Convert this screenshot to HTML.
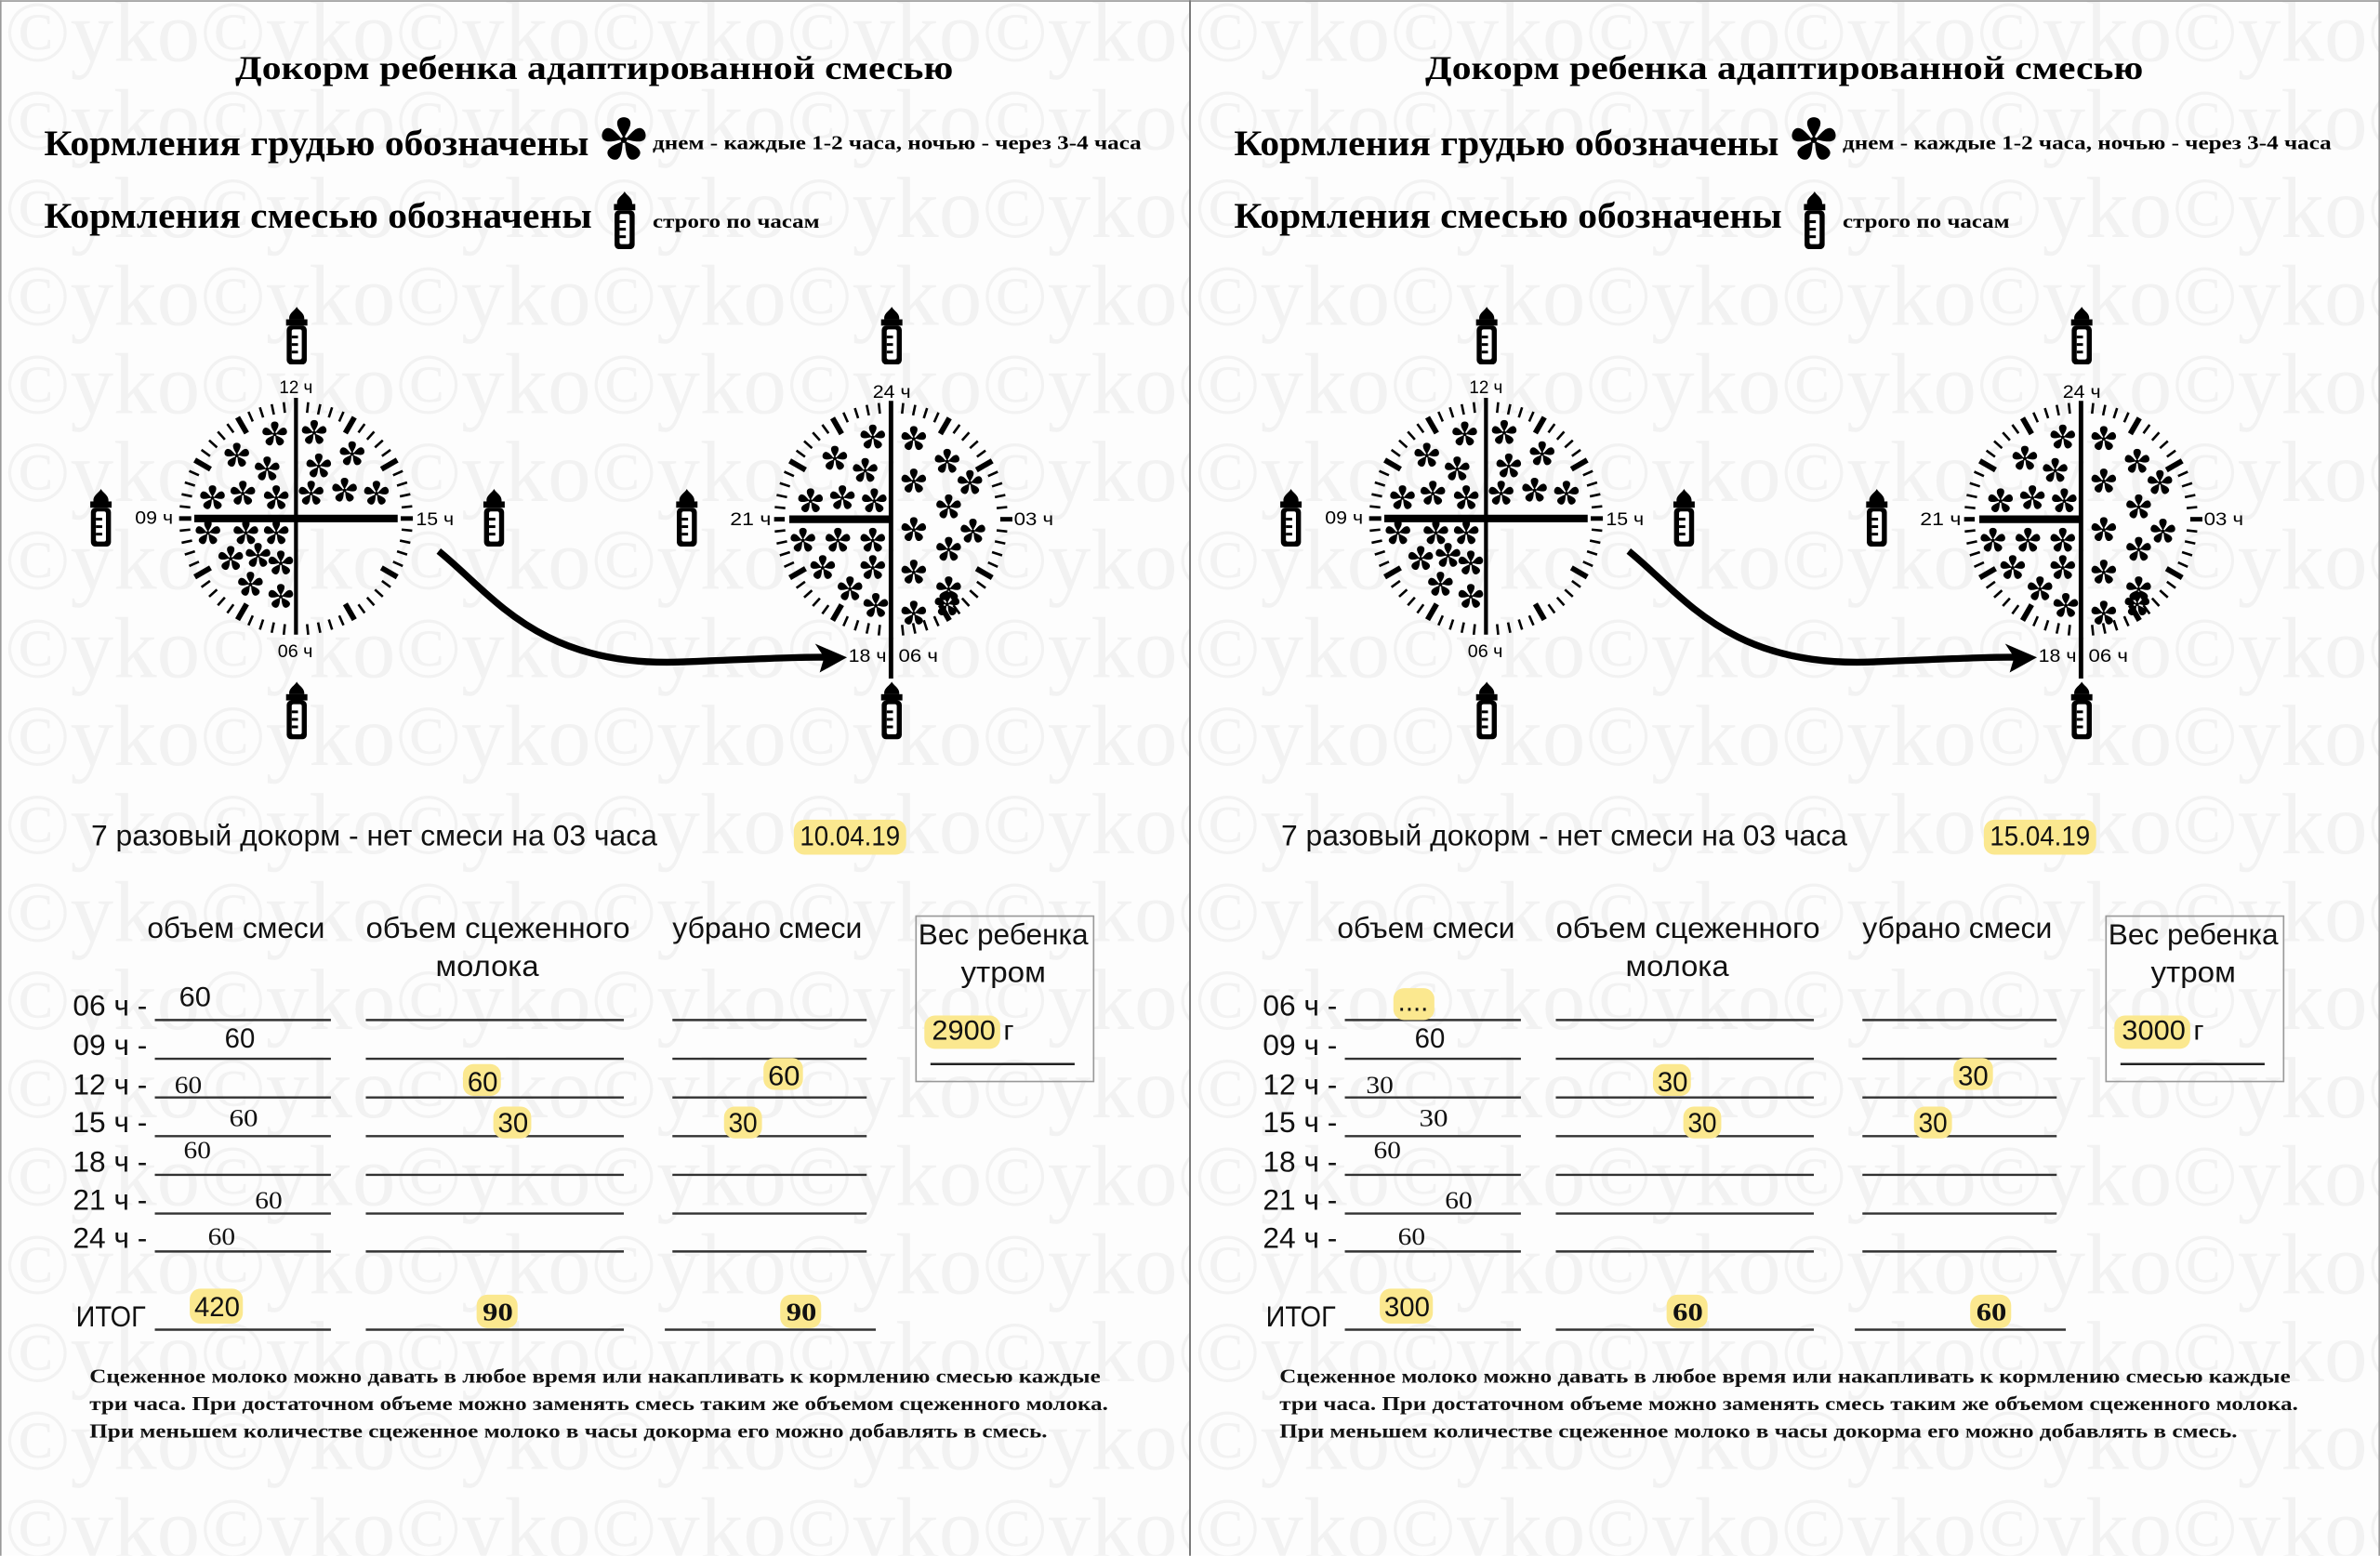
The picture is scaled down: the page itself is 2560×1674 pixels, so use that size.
<!DOCTYPE html>
<html><head><meta charset="utf-8">
<style>
html,body{margin:0;padding:0;background:#fff;}
svg{display:block;}
.s{font-family:"Liberation Serif",serif;font-weight:bold;}
.n{font-family:"Liberation Sans",sans-serif;}
.w{font-family:"Liberation Serif",serif;fill:#f2f2f2;font-size:57px;}
</style></head>
<body>
<svg width="2560" height="1674" viewBox="0 0 1568 1025" xmlns="http://www.w3.org/2000/svg">
<defs>
<symbol id="ast" viewBox="-10 -10 20 20">
<g fill="#000">
<path d="M0 -0.5 C-0.8 -2.5 -3.4 -5.5 -2.6 -7.8 C-1.8 -9.8 1.8 -9.8 2.6 -7.8 C3.4 -5.5 0.8 -2.5 0 -0.5Z"/>
<path d="M0 -0.5 C-0.8 -2.5 -3.4 -5.5 -2.6 -7.8 C-1.8 -9.8 1.8 -9.8 2.6 -7.8 C3.4 -5.5 0.8 -2.5 0 -0.5Z" transform="rotate(72)"/>
<path d="M0 -0.5 C-0.8 -2.5 -3.4 -5.5 -2.6 -7.8 C-1.8 -9.8 1.8 -9.8 2.6 -7.8 C3.4 -5.5 0.8 -2.5 0 -0.5Z" transform="rotate(144)"/>
<path d="M0 -0.5 C-0.8 -2.5 -3.4 -5.5 -2.6 -7.8 C-1.8 -9.8 1.8 -9.8 2.6 -7.8 C3.4 -5.5 0.8 -2.5 0 -0.5Z" transform="rotate(216)"/>
<path d="M0 -0.5 C-0.8 -2.5 -3.4 -5.5 -2.6 -7.8 C-1.8 -9.8 1.8 -9.8 2.6 -7.8 C3.4 -5.5 0.8 -2.5 0 -0.5Z" transform="rotate(288)"/>
<circle r="1.3"/>
</g>
</symbol>
<symbol id="bot" viewBox="0 0 20 46">
<path d="M10 0 C11.5 3 16 5 16 9 L16 10 L4 10 L4 9 C4 5 8.5 3 10 0Z" fill="#000"/>
<rect x="1.5" y="10" width="17" height="5" fill="#000"/>
<rect x="2" y="15" width="16" height="31" rx="3.5" fill="#000"/>
<rect x="6" y="18" width="8" height="24" rx="1.5" fill="#fff"/>
<rect x="6" y="23" width="5" height="2.2" fill="#000"/>
<rect x="6" y="29" width="5" height="2.2" fill="#000"/>
<rect x="6" y="35" width="5" height="2.2" fill="#000"/>
</symbol>
<clipPath id="pc"><rect x="0" y="0" width="784" height="1025"/></clipPath>

<g id="P">
<g clip-path="url(#pc)">
<text class="w" x="3" y="40">©yko©yko©yko©yko©yko©yko©</text>
<text class="w" x="3" y="98">©yko©yko©yko©yko©yko©yko©</text>
<text class="w" x="3" y="156">©yko©yko©yko©yko©yko©yko©</text>
<text class="w" x="3" y="214">©yko©yko©yko©yko©yko©yko©</text>
<text class="w" x="3" y="272">©yko©yko©yko©yko©yko©yko©</text>
<text class="w" x="3" y="330">©yko©yko©yko©yko©yko©yko©</text>
<text class="w" x="3" y="388">©yko©yko©yko©yko©yko©yko©</text>
<text class="w" x="3" y="446">©yko©yko©yko©yko©yko©yko©</text>
<text class="w" x="3" y="504">©yko©yko©yko©yko©yko©yko©</text>
<text class="w" x="3" y="562">©yko©yko©yko©yko©yko©yko©</text>
<text class="w" x="3" y="620">©yko©yko©yko©yko©yko©yko©</text>
<text class="w" x="3" y="678">©yko©yko©yko©yko©yko©yko©</text>
<text class="w" x="3" y="736">©yko©yko©yko©yko©yko©yko©</text>
<text class="w" x="3" y="794">©yko©yko©yko©yko©yko©yko©</text>
<text class="w" x="3" y="852">©yko©yko©yko©yko©yko©yko©</text>
<text class="w" x="3" y="910">©yko©yko©yko©yko©yko©yko©</text>
<text class="w" x="3" y="968">©yko©yko©yko©yko©yko©yko©</text>
<text class="w" x="3" y="1026">©yko©yko©yko©yko©yko©yko©</text>
</g>

<text class="s" x="155" y="52" font-size="22" textLength="473" lengthAdjust="spacingAndGlyphs">Докорм ребенка адаптированной смесью</text>
<text class="s" x="29" y="102" font-size="24" textLength="359" lengthAdjust="spacingAndGlyphs">Кормления грудью обозначены</text>
<use href="#ast" x="395" y="76" width="32" height="32"/>
<text class="s" x="430" y="98" font-size="13" textLength="322" lengthAdjust="spacingAndGlyphs">днем - каждые 1-2 часа, ночью - через 3-4 часа</text>
<text class="s" x="29" y="150" font-size="24" textLength="361" lengthAdjust="spacingAndGlyphs">Кормления смесью обозначены</text>
<use href="#bot" x="402" y="126" width="19" height="38"/>
<text class="s" x="430" y="150" font-size="13" textLength="110" lengthAdjust="spacingAndGlyphs">строго по часам</text>

<use href="#bot" x="186" y="202" width="19" height="38"/>
<use href="#bot" x="186" y="449" width="19" height="38"/>
<use href="#bot" x="57" y="322" width="19" height="38"/>
<use href="#bot" x="316" y="322" width="19" height="38"/>
<use href="#bot" x="578" y="202" width="19" height="38"/>
<use href="#bot" x="578" y="449" width="19" height="38"/>
<use href="#bot" x="443" y="322" width="19" height="38"/>

<g id="ticks1" stroke="#000"></g>
<g id="ticks2" stroke="#000"></g>
<g id="asts"></g>

<line x1="195" y1="262" x2="195" y2="418" stroke="#000" stroke-width="2.6"/>
<line x1="128" y1="341.5" x2="262" y2="341.5" stroke="#000" stroke-width="5"/>
<line x1="118" y1="341.5" x2="126" y2="341.5" stroke="#000" stroke-width="3"/>
<line x1="264" y1="341.5" x2="272" y2="341.5" stroke="#000" stroke-width="3"/>
<line x1="587" y1="264" x2="587" y2="447" stroke="#000" stroke-width="3"/>
<line x1="520" y1="342" x2="587" y2="342" stroke="#000" stroke-width="5"/>
<line x1="510" y1="342" x2="517" y2="342" stroke="#000" stroke-width="3"/>
<line x1="659" y1="342" x2="667" y2="342" stroke="#000" stroke-width="3"/>

<g class="n" font-size="12" fill="#000">
<text x="184" y="259" textLength="22" lengthAdjust="spacingAndGlyphs">12 ч</text>
<text x="183" y="433" textLength="23" lengthAdjust="spacingAndGlyphs">06 ч</text>
<text x="89" y="345" textLength="25" lengthAdjust="spacingAndGlyphs">09 ч</text>
<text x="274" y="346" textLength="25" lengthAdjust="spacingAndGlyphs">15 ч</text>
<text x="575" y="262" textLength="25" lengthAdjust="spacingAndGlyphs">24 ч</text>
<text x="481" y="346" textLength="27" lengthAdjust="spacingAndGlyphs">21 ч</text>
<text x="668" y="346" textLength="26" lengthAdjust="spacingAndGlyphs">03 ч</text>
<text x="559" y="436" textLength="25" lengthAdjust="spacingAndGlyphs">18 ч</text>
<text x="592" y="436" textLength="26" lengthAdjust="spacingAndGlyphs">06 ч</text>
</g>

<path d="M289 363 C325 392 355 440 450 436 S535 433 550 433" fill="none" stroke="#000" stroke-width="4.5"/>
<path d="M558 433 L537 424 L543 433 L540 443 Z" fill="#000"/>

<g class="n" font-size="19" fill="#111">
<text x="60" y="557" textLength="373" lengthAdjust="spacingAndGlyphs">7 разовый докорм - нет смеси на 03 часа</text>
<text x="97" y="618" textLength="117" lengthAdjust="spacingAndGlyphs">объем смеси</text>
<text x="241" y="618" textLength="174" lengthAdjust="spacingAndGlyphs">объем сцеженного</text>
<text x="287" y="643" textLength="68" lengthAdjust="spacingAndGlyphs">молока</text>
<text x="443" y="618" textLength="125" lengthAdjust="spacingAndGlyphs">убрано смеси</text>
<text x="605" y="622" textLength="112" lengthAdjust="spacingAndGlyphs">Вес ребенка</text>
<text x="633" y="647" textLength="56" lengthAdjust="spacingAndGlyphs">утром</text>
<text x="48" y="669" textLength="49" lengthAdjust="spacingAndGlyphs">06 ч -</text>
<text x="48" y="695" textLength="49" lengthAdjust="spacingAndGlyphs">09 ч -</text>
<text x="48" y="721" textLength="49" lengthAdjust="spacingAndGlyphs">12 ч -</text>
<text x="48" y="746" textLength="49" lengthAdjust="spacingAndGlyphs">15 ч -</text>
<text x="48" y="772" textLength="49" lengthAdjust="spacingAndGlyphs">18 ч -</text>
<text x="48" y="797" textLength="49" lengthAdjust="spacingAndGlyphs">21 ч -</text>
<text x="48" y="822" textLength="49" lengthAdjust="spacingAndGlyphs">24 ч -</text>
<text x="50" y="874" textLength="46" lengthAdjust="spacingAndGlyphs">ИТОГ</text>
</g>
<rect x="603.5" y="603.5" width="117" height="109" fill="none" stroke="#999" stroke-width="1"/>
<line x1="613" y1="701" x2="708" y2="701" stroke="#222" stroke-width="1.5"/>
<g stroke="#333" stroke-width="1.5">
<line x1="102" y1="672" x2="218" y2="672"/><line x1="241" y1="672" x2="411" y2="672"/><line x1="443" y1="672" x2="571" y2="672"/>
<line x1="102" y1="697.5" x2="218" y2="697.5"/><line x1="241" y1="697.5" x2="411" y2="697.5"/><line x1="443" y1="697.5" x2="571" y2="697.5"/>
<line x1="102" y1="723" x2="218" y2="723"/><line x1="241" y1="723" x2="411" y2="723"/><line x1="443" y1="723" x2="571" y2="723"/>
<line x1="102" y1="748.5" x2="218" y2="748.5"/><line x1="241" y1="748.5" x2="411" y2="748.5"/><line x1="443" y1="748.5" x2="571" y2="748.5"/>
<line x1="102" y1="774" x2="218" y2="774"/><line x1="241" y1="774" x2="411" y2="774"/><line x1="443" y1="774" x2="571" y2="774"/>
<line x1="102" y1="799.5" x2="218" y2="799.5"/><line x1="241" y1="799.5" x2="411" y2="799.5"/><line x1="443" y1="799.5" x2="571" y2="799.5"/>
<line x1="102" y1="824.5" x2="218" y2="824.5"/><line x1="241" y1="824.5" x2="411" y2="824.5"/><line x1="443" y1="824.5" x2="571" y2="824.5"/>
<line x1="102" y1="876" x2="218" y2="876"/><line x1="241" y1="876" x2="411" y2="876"/><line x1="438" y1="876" x2="577" y2="876"/>
</g>
<g class="s" font-size="13" fill="#111">
<text x="59" y="911" textLength="666" lengthAdjust="spacingAndGlyphs">Сцеженное молоко можно давать в любое время или накапливать к кормлению смесью каждые</text>
<text x="59" y="929" textLength="671" lengthAdjust="spacingAndGlyphs">три часа. При достаточном объеме можно заменять смесь таким же объемом сцеженного молока.</text>
<text x="59" y="947" textLength="631" lengthAdjust="spacingAndGlyphs">При меньшем количестве сцеженное молоко в часы докорма его можно добавлять в смесь.</text>
</g>
</g>
</defs>

<rect width="1568" height="1025" fill="#fdfdfd"/>
<use href="#P"/>
<use href="#P" x="784"/>
<line x1="0.5" y1="0" x2="0.5" y2="1025" stroke="#999"/>
<line x1="0" y1="0.5" x2="1568" y2="0.5" stroke="#999"/>
<line x1="784" y1="0" x2="784" y2="1025" stroke="#777" stroke-width="1.2"/>
<line x1="1567.5" y1="0" x2="1567.5" y2="1025" stroke="#999"/>

<g fill="#fbe88f">
<rect x="523" y="540" width="74" height="23" rx="7"/>
<rect x="609" y="669" width="50" height="22" rx="7"/>
<rect x="305" y="701" width="25" height="21" rx="7"/>
<rect x="325" y="729" width="25" height="21" rx="7"/>
<rect x="503" y="697" width="26" height="21" rx="7"/>
<rect x="477" y="729" width="25" height="21" rx="7"/>
<rect x="125" y="849" width="35" height="23" rx="7"/>
<rect x="314" y="853" width="27" height="22" rx="7"/>
<rect x="514" y="853" width="27" height="22" rx="7"/>

<rect x="1307" y="540" width="74" height="23" rx="7"/>
<rect x="1393" y="669" width="50" height="22" rx="7"/>
<rect x="918" y="651" width="27" height="21" rx="7"/>
<rect x="1089" y="701" width="25" height="21" rx="7"/>
<rect x="1109" y="729" width="25" height="21" rx="7"/>
<rect x="1287" y="697" width="26" height="21" rx="7"/>
<rect x="1261" y="729" width="25" height="21" rx="7"/>
<rect x="909" y="849" width="35" height="23" rx="7"/>
<rect x="1098" y="853" width="27" height="22" rx="7"/>
<rect x="1298" y="853" width="27" height="22" rx="7"/>
</g>

<g class="n" font-size="18" fill="#111">
<text x="527" y="557" textLength="66" lengthAdjust="spacingAndGlyphs">10.04.19</text>
<text x="614" y="685" textLength="54" lengthAdjust="spacingAndGlyphs">2900 г</text>
<text x="118" y="663" textLength="21" lengthAdjust="spacingAndGlyphs">60</text>
<text x="148" y="690" textLength="20" lengthAdjust="spacingAndGlyphs">60</text>
<text x="308" y="719" textLength="20" lengthAdjust="spacingAndGlyphs">60</text>
<text x="328" y="746" textLength="20" lengthAdjust="spacingAndGlyphs">30</text>
<text x="506" y="715" textLength="21" lengthAdjust="spacingAndGlyphs">60</text>
<text x="480" y="746" textLength="19" lengthAdjust="spacingAndGlyphs">30</text>
<text x="128" y="867" textLength="30" lengthAdjust="spacingAndGlyphs">420</text>

<text x="1311" y="557" textLength="66" lengthAdjust="spacingAndGlyphs">15.04.19</text>
<text x="1398" y="685" textLength="54" lengthAdjust="spacingAndGlyphs">3000 г</text>
<text x="921" y="666" textLength="20" lengthAdjust="spacingAndGlyphs">....</text>
<text x="932" y="690" textLength="20" lengthAdjust="spacingAndGlyphs">60</text>
<text x="1092" y="719" textLength="20" lengthAdjust="spacingAndGlyphs">30</text>
<text x="1112" y="746" textLength="19" lengthAdjust="spacingAndGlyphs">30</text>
<text x="1290" y="715" textLength="20" lengthAdjust="spacingAndGlyphs">30</text>
<text x="1264" y="746" textLength="19" lengthAdjust="spacingAndGlyphs">30</text>
<text x="912" y="867" textLength="30" lengthAdjust="spacingAndGlyphs">300</text>
</g>
<g font-family="Liberation Serif, serif" font-size="16" fill="#111">
<text x="115" y="720" textLength="18" lengthAdjust="spacingAndGlyphs">60</text>
<text x="151" y="742" textLength="19" lengthAdjust="spacingAndGlyphs">60</text>
<text x="121" y="763" textLength="18" lengthAdjust="spacingAndGlyphs">60</text>
<text x="168" y="796" textLength="18" lengthAdjust="spacingAndGlyphs">60</text>
<text x="137" y="820" textLength="18" lengthAdjust="spacingAndGlyphs">60</text>
<text x="900" y="720" textLength="18" lengthAdjust="spacingAndGlyphs">30</text>
<text x="935" y="742" textLength="19" lengthAdjust="spacingAndGlyphs">30</text>
<text x="905" y="763" textLength="18" lengthAdjust="spacingAndGlyphs">60</text>
<text x="952" y="796" textLength="18" lengthAdjust="spacingAndGlyphs">60</text>
<text x="921" y="820" textLength="18" lengthAdjust="spacingAndGlyphs">60</text>
</g>
<g class="s" font-size="17" fill="#111">
<text x="318" y="870" textLength="20" lengthAdjust="spacingAndGlyphs">90</text>
<text x="518" y="870" textLength="20" lengthAdjust="spacingAndGlyphs">90</text>
<text x="1102" y="870" textLength="20" lengthAdjust="spacingAndGlyphs">60</text>
<text x="1302" y="870" textLength="20" lengthAdjust="spacingAndGlyphs">60</text>
</g>
</svg>
<script>
(function(){
var NS="http://www.w3.org/2000/svg";
function ticks(id,cx,cy){
  var g=document.getElementById(id);
  for(var a=0;a<360;a+=6){
    if(a%90===0)continue;
    var major=(a%30===0);
    var r1=major?65:70,r2=77;
    var t=a*Math.PI/180;
    var l=document.createElementNS(NS,"line");
    l.setAttribute("x1",cx+r1*Math.sin(t));l.setAttribute("y1",cy-r1*Math.cos(t));
    l.setAttribute("x2",cx+r2*Math.sin(t));l.setAttribute("y2",cy-r2*Math.cos(t));
    l.setAttribute("stroke-width",major?3.6:1.6);
    g.appendChild(l);
  }
}
ticks("ticks1",195,341.5);ticks("ticks2",587,342);
var pts=[[181,286],[207,285],[156,300],[232,299],[176,309],[210,307],[140,328],[160,325],[182,328],[205,325],[227,323],[248,325],
[137,351],[162,351],[182,351],[152,368],[170,366],[185,371],[165,385],[185,393],
[575,288],[602,289],[550,302],[624,304],[570,310],[602,317],[639,318],[534,330],[555,328],[576,330],[625,334],[602,349],[641,350],
[529,356],[552,356],[575,356],[625,362],[542,374],[575,374],[602,377],[625,388],[560,388],[577,399],[602,404],[624,398]];
var g=document.getElementById("asts");
pts.forEach(function(p){
  var u=document.createElementNS(NS,"use");
  u.setAttribute("href","#ast");
  u.setAttribute("x",p[0]-9);u.setAttribute("y",p[1]-9);
  u.setAttribute("width",18);u.setAttribute("height",18);
  g.appendChild(u);
});
})();
</script>
</body></html>
